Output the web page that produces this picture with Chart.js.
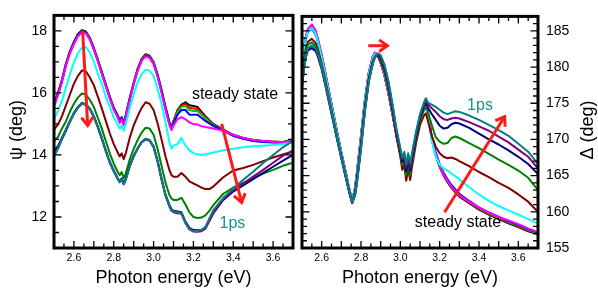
<!DOCTYPE html>
<html><head><meta charset="utf-8">
<script src="https://cdn.jsdelivr.net/npm/chart.js@4.4.0/dist/chart.umd.min.js"></script>
<style>
html,body{margin:0;padding:0;background:#fff;}
#wrap{position:relative;width:598px;height:289px;overflow:hidden;background:#fff;}
#c1{position:absolute;left:0;top:0;width:298px;height:289px;}
#c2{position:absolute;left:298px;top:0;width:300px;height:289px;}
</style></head><body>
<div id="wrap"><canvas id="c1" width="298" height="289"></canvas><canvas id="c2" width="300" height="289"></canvas></div>
<script>
// ---------------- DATA: left panel (psi) ----------------
const energyPsi = [2.50,2.52,2.54,2.56,2.58,2.60,2.62,2.64,2.66,2.68,2.70,2.72,2.74,2.76,2.78,2.80,2.82,2.83,2.84,2.85,2.86,2.88,2.90,2.92,2.94,2.96,2.98,3.00,3.02,3.04,3.06,3.08,3.09,3.10,3.12,3.14,3.16,3.18,3.20,3.22,3.24,3.26,3.28,3.30,3.35,3.40,3.45,3.50,3.55,3.60,3.65,3.70];
const psiBlack   = [15.65,16.0,16.42,16.95,17.35,17.65,17.9,18.02,17.98,17.78,17.45,17.08,16.68,16.28,15.88,15.53,15.28,15.12,15.22,15.05,15.28,15.83,16.33,16.78,17.1,17.25,17.2,17.0,16.6,16.1,15.55,15.05,14.9,15.1,15.45,15.62,15.7,15.6,15.58,15.55,15.4,15.25,15.12,15.0,14.82,14.65,14.55,14.48,14.45,14.43,14.42,14.5];
const psiRed     = [15.62,15.98,16.4,16.93,17.33,17.63,17.88,18.0,17.96,17.76,17.43,17.06,16.66,16.26,15.86,15.51,15.26,15.1,15.2,15.03,15.26,15.81,16.31,16.76,17.08,17.23,17.18,16.98,16.58,16.08,15.53,15.03,14.88,15.08,15.42,15.58,15.64,15.52,15.5,15.48,15.35,15.22,15.1,14.98,14.8,14.64,14.54,14.47,14.44,14.42,14.41,14.48];
const psiGreen   = [15.6,15.96,16.38,16.91,17.31,17.61,17.86,17.98,17.94,17.74,17.41,17.04,16.64,16.24,15.84,15.49,15.24,15.08,15.18,15.01,15.24,15.79,16.29,16.74,17.06,17.21,17.16,16.96,16.56,16.06,15.51,15.01,14.86,15.05,15.38,15.55,15.58,15.45,15.42,15.42,15.3,15.18,15.07,14.96,14.79,14.63,14.53,14.46,14.43,14.41,14.4,14.46];
const psiBlue    = [15.6,15.96,16.38,16.91,17.31,17.61,17.86,17.98,17.94,17.74,17.41,17.04,16.64,16.24,15.84,15.49,15.24,15.08,15.18,15.01,15.24,15.79,16.29,16.74,17.06,17.2,17.15,16.95,16.55,16.05,15.5,15.0,14.85,15.02,15.3,15.45,15.45,15.3,15.3,15.3,15.2,15.1,15.02,14.94,14.78,14.62,14.52,14.45,14.42,14.4,14.39,14.45];
const psiMagenta = [15.55,15.92,16.35,16.88,17.28,17.58,17.83,17.95,17.92,17.72,17.4,17.03,16.62,16.22,15.82,15.47,15.2,15.03,15.15,14.96,15.2,15.76,16.26,16.72,17.04,17.18,17.13,16.93,16.52,16.0,15.45,14.95,14.8,14.95,15.15,15.22,15.15,15.05,15.0,14.98,14.93,14.9,14.88,14.85,14.78,14.65,14.55,14.48,14.45,14.42,14.4,14.45];
const psiCyan    = [15.17,15.42,15.75,16.18,16.6,16.98,17.28,17.45,17.48,17.3,17.02,16.62,16.3,15.88,15.55,15.22,14.98,14.85,14.95,14.78,14.98,15.5,15.95,16.35,16.6,16.75,16.72,16.55,16.13,15.65,15.05,14.4,14.2,14.3,14.35,14.55,14.3,14.15,14.06,14.02,14.0,14.02,14.05,14.08,14.15,14.2,14.25,14.28,14.3,14.32,14.35,14.4];
const psiMaroon  = [14.82,14.98,15.25,15.6,15.95,16.3,16.55,16.72,16.7,16.5,16.25,15.88,15.5,15.1,14.7,14.35,14.08,13.95,14.05,13.86,14.05,14.55,14.95,15.25,15.52,15.7,15.65,15.45,15.02,14.5,13.95,13.5,13.35,13.3,13.3,13.42,13.3,13.15,13.08,13.02,12.95,12.9,12.9,12.98,13.28,13.5,13.58,13.68,13.8,13.92,14.02,14.1];
const psiDarkGreen = [14.45,14.58,14.85,15.08,15.4,15.65,15.85,15.98,15.95,15.78,15.55,15.2,14.85,14.45,14.05,13.72,13.45,13.35,13.45,13.25,13.4,13.85,14.2,14.48,14.72,14.88,14.85,14.65,14.2,13.65,13.1,12.7,12.6,12.55,12.55,12.62,12.4,12.15,12.0,11.97,11.98,12.05,12.2,12.38,12.75,12.95,13.1,13.25,13.4,13.52,13.65,13.75];
const psiNavy    = [14.15,14.28,14.56,14.82,15.1,15.36,15.55,15.68,15.64,15.5,15.25,14.92,14.55,14.15,13.78,13.5,13.25,13.15,13.25,13.08,13.22,13.65,13.98,14.22,14.42,14.52,14.48,14.28,13.82,13.25,12.72,12.38,12.25,12.2,12.18,12.15,11.85,11.65,11.58,11.57,11.58,11.65,11.88,12.12,12.55,12.82,13.02,13.22,13.42,13.62,13.82,14.0];
const psiPurple  = [14.05,14.22,14.52,14.78,15.07,15.33,15.52,15.65,15.62,15.47,15.22,14.9,14.52,14.12,13.75,13.47,13.22,13.12,13.22,13.05,13.2,13.62,13.95,14.2,14.4,14.5,14.46,14.25,13.78,13.2,12.68,12.33,12.2,12.15,12.12,12.1,11.8,11.6,11.53,11.52,11.54,11.62,11.88,12.14,12.58,12.86,13.08,13.3,13.52,13.75,13.98,14.15];
const psiTeal    = [13.95,14.2,14.5,14.78,15.08,15.34,15.53,15.66,15.63,15.48,15.23,14.9,14.53,14.13,13.76,13.48,13.23,13.12,13.22,13.06,13.2,13.63,13.96,14.21,14.41,14.51,14.47,14.27,13.8,13.22,12.7,12.35,12.22,12.18,12.15,12.12,11.82,11.62,11.55,11.55,11.58,11.68,11.95,12.22,12.62,12.92,13.2,13.46,13.74,14.0,14.25,14.45];

// ---------------- DATA: right panel (Delta) ----------------
const energyDelta = [2.50,2.51,2.52,2.53,2.55,2.57,2.58,2.60,2.62,2.64,2.66,2.68,2.70,2.72,2.74,2.755,2.77,2.78,2.80,2.82,2.84,2.86,2.87,2.88,2.89,2.90,2.92,2.94,2.96,2.98,3.00,3.01,3.02,3.03,3.04,3.05,3.06,3.08,3.10,3.12,3.13,3.14,3.16,3.18,3.20,3.22,3.24,3.26,3.28,3.30,3.35,3.40,3.45,3.50,3.55,3.60,3.65,3.70];
const deltaBlack   = [180.2,182.6,184.2,185.1,185.6,184.8,183.8,181.6,178.9,176.2,173.5,170.8,168.2,165.7,163.2,161.5,163.3,165.5,170.4,175.4,179.2,181.4,181.9,181.8,181.3,180.6,178.8,176.3,173.5,170.6,168.0,166.7,167.4,165.8,167.2,166.0,167.6,170.5,173.0,174.6,175.1,173.8,170.0,167.8,166.2,165.0,164.1,163.3,162.7,162.1,161.2,160.3,159.6,159.0,158.4,157.9,157.3,156.9];
const deltaRed     = [180.1,182.6,184.2,185.1,185.6,184.8,183.8,181.6,178.9,176.2,173.5,170.8,168.2,165.7,163.2,161.5,163.3,165.5,170.4,175.4,179.2,181.4,181.9,181.8,181.3,180.6,178.8,176.3,173.5,170.6,168.0,166.7,167.4,165.8,167.2,166.0,167.6,170.5,173.0,174.6,175.1,173.8,170.1,167.9,166.3,165.1,164.2,163.4,162.8,162.2,161.3,160.4,159.7,159.1,158.5,158.0,157.4,157.0];
const deltaGreen   = [180.1,182.5,184.1,185.0,185.5,184.7,183.7,181.6,178.9,176.2,173.5,170.8,168.2,165.7,163.2,161.5,163.3,165.5,170.4,175.4,179.2,181.4,181.9,181.8,181.3,180.6,178.8,176.3,173.5,170.6,168.0,166.7,167.4,165.8,167.2,166.0,167.6,170.5,173.0,174.6,175.1,173.8,170.1,168.0,166.4,165.2,164.3,163.5,162.9,162.3,161.4,160.5,159.8,159.2,158.6,158.1,157.5,157.0];
const deltaBlue    = [180.1,182.5,184.0,184.9,185.3,184.5,183.6,181.5,178.8,176.1,173.4,170.7,168.1,165.6,163.1,161.5,163.2,165.4,170.3,175.3,179.1,181.3,181.8,181.8,181.3,180.6,178.8,176.3,173.5,170.6,168.0,166.6,167.3,165.7,167.1,165.9,167.5,170.4,172.9,174.5,175.0,173.8,170.4,168.2,166.6,165.4,164.5,163.7,163.1,162.5,161.5,160.6,159.9,159.3,158.7,158.2,157.6,157.1];
const deltaMagenta = [180.0,182.6,184.3,185.3,185.9,185.0,184.0,181.8,179.0,176.3,173.6,170.8,168.2,165.7,163.2,161.6,163.4,165.6,170.6,175.6,179.4,181.5,182.0,181.8,181.3,180.6,178.8,176.3,173.5,170.6,168.2,166.9,167.6,166.0,167.4,166.2,167.8,170.6,173.0,174.6,175.0,173.6,170.2,168.0,166.5,165.2,164.3,163.5,162.9,162.3,161.4,160.6,159.9,159.3,158.8,158.3,157.7,157.2];
const deltaCyan    = [179.8,182.3,184.0,184.9,185.4,184.6,183.6,181.4,178.7,176.0,173.4,170.7,168.1,165.6,163.1,161.6,163.3,165.4,170.3,175.3,179.1,181.3,181.8,181.8,181.4,180.7,178.9,176.5,173.7,170.8,168.4,167.2,167.9,166.4,167.7,166.5,168.0,170.7,173.0,174.4,174.7,173.3,169.8,167.6,166.5,166.0,165.7,165.3,164.9,164.5,163.4,162.4,161.5,160.8,160.2,159.6,159.0,158.4];
const deltaMaroon  = [178.5,181.0,182.6,183.5,183.9,183.3,182.5,180.5,178.0,175.4,172.8,170.2,167.7,165.3,162.9,161.4,162.8,164.8,169.5,174.6,178.5,180.8,181.4,181.6,181.4,180.8,179.2,176.8,173.8,170.5,167.6,165.8,166.5,164.3,166.0,164.4,166.3,169.5,172.0,173.3,173.6,172.6,170.5,169.0,168.1,167.6,167.4,167.5,167.3,167.0,166.3,165.5,164.8,164.0,163.3,162.4,161.4,160.0];
const deltaDarkGreen = [178.0,180.6,182.2,183.1,183.4,182.9,182.1,180.2,177.7,175.2,172.6,170.0,167.6,165.2,162.8,161.3,162.6,164.6,169.3,174.4,178.4,180.8,181.4,181.7,181.6,181.1,179.6,177.2,174.2,170.9,168.1,166.4,167.2,165.0,166.7,165.1,166.9,170.1,172.6,174.0,174.4,173.8,172.0,170.3,169.7,169.4,169.5,170.2,170.4,170.2,169.5,168.8,168.0,167.2,166.5,165.7,164.7,163.0];
const deltaNavy    = [177.2,179.8,181.4,182.3,182.6,182.2,181.5,179.7,177.3,174.8,172.3,169.8,167.4,165.0,162.7,161.2,162.4,164.3,169.0,174.1,178.2,180.6,181.3,181.7,181.7,181.3,179.9,177.6,174.5,171.1,168.4,166.9,167.7,165.6,167.3,165.7,167.4,170.5,173.0,174.5,175.0,174.4,173.5,172.7,171.9,171.5,171.6,172.1,172.3,172.2,171.6,170.8,170.0,169.3,168.5,167.6,166.6,165.2];
const deltaPurple  = [177.5,180.1,181.7,182.6,182.9,182.5,181.8,179.9,177.5,175.0,172.5,169.9,167.5,165.1,162.7,161.2,162.3,164.2,168.8,174.0,178.1,180.5,181.3,181.7,181.8,181.5,180.1,177.8,174.7,171.3,168.6,167.2,168.0,166.1,167.7,166.2,167.8,170.8,173.3,174.8,175.4,174.9,174.3,173.8,173.2,172.8,172.7,172.9,173.0,172.9,172.4,171.8,171.2,170.4,169.6,168.6,167.6,166.0];
const deltaTeal    = [177.0,179.9,181.6,182.6,183.0,182.6,181.9,180.0,177.6,175.1,172.6,170.0,167.6,165.2,162.8,161.3,162.3,164.1,168.7,173.9,178.0,180.5,181.3,181.8,181.9,181.6,180.3,178.0,174.9,171.5,168.8,167.5,168.3,166.6,168.1,166.7,168.2,171.1,173.5,175.1,175.7,175.1,174.8,174.5,174.1,173.7,173.5,173.7,173.9,173.8,173.3,172.7,172.0,171.3,170.5,169.4,168.3,166.6];

// ---------------- tick labels ----------------
const energyTickLabels = [2.6, 2.8, 3.0, 3.2, 3.4, 3.6];
const psiTickLabels = [12, 14, 16, 18];
const deltaTickLabels = [155, 160, 165, 170, 175, 180, 185];
const seriesNames = ['steady state','t2','t3','t4','t5','t6','t7','t8','t9','t10','1ps'];

// ---------------- styles ----------------
const seriesColors = ['#000000','#FF0000','#00C800','#0000FF','#FF00FF','#00FFFF','#800000','#008000','#000080','#800080','#008080'];
const FONT = "'Liberation Sans', Arial, Helvetica, sans-serif";
Chart.defaults.font.family = FONT;

const psiSeries = [psiBlack, psiRed, psiGreen, psiBlue, psiMagenta, psiCyan, psiMaroon, psiDarkGreen, psiNavy, psiPurple, psiTeal];
const deltaSeries = [deltaBlack, deltaRed, deltaGreen, deltaBlue, deltaMagenta, deltaCyan, deltaMaroon, deltaDarkGreen, deltaNavy, deltaPurple, deltaTeal];

function buildDatasets(xs, series) {
  return series.map((ys, i) => ({
    label: seriesNames[i],
    data: xs.map((x, k) => ({x: x, y: ys[k]})),
    borderColor: seriesColors[i],
    backgroundColor: seriesColors[i],
    borderWidth: 2,
    pointRadius: 0,
    tension: 0,
    fill: false,
    borderJoinStyle: 'round',
    order: series.length - 1 - i
  }));
}

function drawArrow(ctx, x1, y1, x2, y2) {
  const ang = Math.atan2(y2 - y1, x2 - x1);
  ctx.beginPath();
  ctx.moveTo(x1, y1);
  ctx.lineTo(x2, y2);
  ctx.stroke();
  const L = 10, w = 0.62;
  ctx.beginPath();
  ctx.moveTo(x2 - L * Math.cos(ang - w), y2 - L * Math.sin(ang - w));
  ctx.lineTo(x2, y2);
  ctx.lineTo(x2 - L * Math.cos(ang + w), y2 - L * Math.sin(ang + w));
  ctx.stroke();
}

function framePlugin(cfg) {
  return {
    id: 'frame' + cfg.id,
    afterDatasetsDraw(chart) {
      const ctx = chart.ctx, a = chart.chartArea;
      const xs = chart.scales.x, ys = chart.scales.y;
      ctx.save();
      ctx.strokeStyle = '#000';
      ctx.lineWidth = 1.3;
      ctx.beginPath();
      for (let k = 0; ; k++) {
        const v = cfg.xFrom + k * cfg.xStep;
        if (v > cfg.xTo + 1e-9) break;
        const px = xs.getPixelForValue(v);
        const big = Math.abs(v * 10 - Math.round(v * 10)) < 1e-6;
        const len = big ? 7 : 4.5;
        ctx.moveTo(px, a.bottom); ctx.lineTo(px, a.bottom - len);
        ctx.moveTo(px, a.top); ctx.lineTo(px, a.top + len);
      }
      for (let k = 0; ; k++) {
        const v = cfg.yFrom + k * cfg.yStep;
        if (v > cfg.yTo + 1e-9) break;
        const py = ys.getPixelForValue(v);
        const big = Math.abs(v / cfg.yMajor - Math.round(v / cfg.yMajor)) < 1e-6;
        const len = big ? 7.5 : 5;
        ctx.moveTo(a.left, py); ctx.lineTo(a.left + len, py);
        ctx.moveTo(a.right, py); ctx.lineTo(a.right - len, py);
      }
      ctx.stroke();
      ctx.lineWidth = 3;
      ctx.strokeRect(a.left, a.top, a.right - a.left, a.bottom - a.top);
      ctx.restore();
    },
    afterDraw(chart) {
      const ctx = chart.ctx, a = chart.chartArea;
      const xs = chart.scales.x, ys = chart.scales.y;
      ctx.save();
      // axis titles
      ctx.fillStyle = '#000';
      ctx.font = '18px ' + FONT;
      ctx.textAlign = 'center';
      ctx.textBaseline = 'alphabetic';
      ctx.fillText('Photon energy (eV)', (a.left + a.right) / 2, 283);
      ctx.save();
      ctx.translate(cfg.yTitleX, 130);
      ctx.rotate(-Math.PI / 2);
      ctx.textBaseline = 'middle';
      ctx.fillText(cfg.yTitle, 0, 0);
      ctx.restore();
      // arrows
      ctx.strokeStyle = '#FF1A1A';
      ctx.lineWidth = 3;
      ctx.lineCap = 'butt';
      ctx.lineJoin = 'miter';
      cfg.arrows.forEach(ar => {
        drawArrow(ctx, xs.getPixelForValue(ar[0]), ys.getPixelForValue(ar[1]),
                       xs.getPixelForValue(ar[2]), ys.getPixelForValue(ar[3]));
      });
      // labels
      ctx.font = '16px ' + FONT;
      ctx.textAlign = 'center';
      ctx.textBaseline = 'alphabetic';
      cfg.texts.forEach(t => {
        ctx.fillStyle = t.color;
        ctx.fillText(t.text, xs.getPixelForValue(t.x), ys.getPixelForValue(t.y));
      });
      ctx.restore();
    }
  };
}

function makeChart(canvasId, xs, series, yMin, yMax, yTicks, yPos, yWidth, padding, cfg) {
  return new Chart(document.getElementById(canvasId), {
    type: 'line',
    data: { datasets: buildDatasets(xs, series) },
    options: {
      responsive: false,
      animation: false,
      devicePixelRatio: 1,
      layout: { padding: padding },
      plugins: { legend: { display: false }, tooltip: { enabled: false }, title: { display: false } },
      scales: {
        x: {
          type: 'linear', min: 2.5, max: 3.7,
          grid: { display: false, drawTicks: false },
          border: { display: false },
          afterBuildTicks: s => { s.ticks = energyTickLabels.map(v => ({value: v})); },
          afterFit: s => { s.height = 41; },
          ticks: { color: '#000', font: { size: 10.5 }, padding: 4, maxRotation: 0, autoSkip: false,
                   callback: v => Number(v).toFixed(1) }
        },
        y: {
          type: 'linear', position: yPos, min: yMin, max: yMax,
          grid: { display: false, drawTicks: false },
          border: { display: false },
          afterBuildTicks: s => { s.ticks = yTicks.map(v => ({value: v})); },
          afterFit: s => { s.width = yWidth; },
          ticks: { color: '#000', font: { size: 14 }, padding: yPos === 'left' ? 7 : 8, autoSkip: false,
                   callback: v => String(v) }
        }
      }
    },
    plugins: [framePlugin(cfg)]
  });
}

makeChart('c1', energyPsi, psiSeries, 11.0, 18.5, psiTickLabels, 'left', 54,
  { left: 0, top: 1.5, right: 5, bottom: 0 },
  { id: 1, xFrom: 2.5, xTo: 3.7, xStep: 0.05, yFrom: 11.0, yTo: 18.5, yStep: 0.5, yMajor: 2,
    yTitle: '\u03C8 (deg)', yTitleX: 17,
    arrows: [[2.644, 17.99, 2.669, 14.95], [3.342, 15.0, 3.442, 12.47]],
    texts: [{ text: 'steady state', x: 3.409, y: 15.81, color: '#000' },
            { text: '1ps', x: 3.396, y: 11.66, color: '#1F8F8F' }] });

makeChart('c2', energyDelta, deltaSeries, 155, 187, deltaTickLabels, 'right', 60,
  { left: 4, top: 1.5, right: 0, bottom: 0 },
  { id: 2, xFrom: 2.5, xTo: 3.7, xStep: 0.05, yFrom: 155, yTo: 187, yStep: 1, yMajor: 5,
    yTitle: '\u0394 (deg)', yTitleX: 290,
    arrows: [[2.837, 182.95, 2.934, 182.95], [3.225, 159.93, 3.530, 173.13]],
    texts: [{ text: '1ps', x: 3.405, y: 174.0, color: '#1F8F8F' },
            { text: 'steady state', x: 3.293, y: 157.86, color: '#000' }] });
</script></body></html>
